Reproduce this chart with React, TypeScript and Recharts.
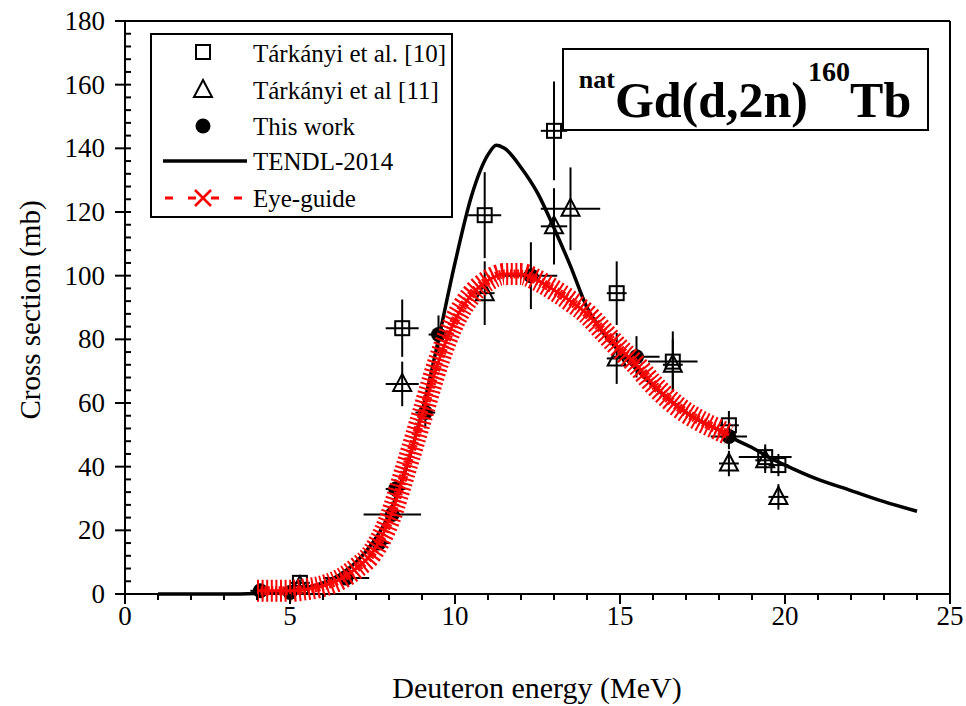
import React from 'react';
import { ComposedChart, Line, Scatter, XAxis, YAxis, ErrorBar, ReferenceLine, Label } from 'recharts';

const FONT = '"Liberation Serif", "Times New Roman", serif';

// TENDL-2014 curve
const tendlEnergy = [1, 2, 3, 4, 4.5, 5, 5.5, 6, 6.5, 7, 7.5, 8, 8.5, 9, 9.5, 10, 10.5, 11, 11.25, 11.5, 12, 12.5, 13, 13.5, 14, 14.5, 15, 15.5, 16, 16.5, 17, 17.5, 18, 18.5, 19, 19.5, 20, 21, 22, 23, 24];
const tendlXs = [0, 0, 0, 0.2, 0.5, 1, 2, 3.5, 6, 10, 16, 25, 39, 57, 80, 104, 125, 138, 141, 140, 134, 126, 115, 103, 90, 82, 76, 70.5, 65.5, 61, 57, 54, 51.5, 48.5, 46, 43, 40.5, 36, 32.5, 29, 26];

// eye-guide
const guideEnergy = [4, 4.5, 5, 5.5, 6, 6.5, 7, 7.5, 8, 8.5, 9, 9.5, 10, 10.5, 11, 11.5, 12, 12.5, 13, 13.5, 14, 14.5, 15, 15.5, 16, 16.5, 17, 17.5, 18, 18.3];
const guideXs = [1, 1, 1, 1.5, 2.5, 4.5, 8, 13, 23, 39, 56, 73, 86, 94, 98.5, 100.5, 100.5, 98.5, 95.5, 92, 88, 82.5, 77, 72, 66, 61, 57, 54, 51.5, 50];

// Tárkányi et al. [10]
const t10Energy = [5.3, 8.4, 10.9, 13.0, 14.9, 16.6, 18.3, 19.4, 19.8];
const t10Xs = [3.5, 83.5, 119, 145.5, 94.5, 73, 53, 43, 40.5];
const t10dE = [0.3, 0.5, 0.5, 0.4, 0.3, 0.75, 0.3, 0.8, 0.3];
const t10dXs = [1, 9, 13.5, 15.5, 10, 9.5, 4.5, 4, 3.5];

// Tárkányi et al [11]
const t11Energy = [5.3, 8.4, 10.9, 13.0, 13.5, 14.9, 16.6, 18.3, 19.4, 19.8];
const t11Xs = [2.5, 66, 94.5, 115.5, 121, 74, 72, 41, 42, 30.5];
const t11dE = [0.3, 0.5, 0.3, 0.4, 0.9, 0.3, 0.3, 0.3, 0.3, 0.3];
const t11dXs = [1, 7, 10, 12, 13, 8, 8, 4, 4, 4];

// This work
const twEnergy = [4.1, 5.0, 6.7, 7.7, 8.1, 8.2, 9.1, 9.5, 12.3, 15.5, 18.3];
const twXs = [1, 0.5, 5, 16, 25, 33, 57, 81.5, 100, 74.5, 49.5];
const twdE = [0.3, 0.3, 0.7, 0.3, 0.87, 0.3, 0.3, 0.3, 0.8, 0.7, 0.55];
const twdXs = [0.5, 0.5, 1, 2, 2.5, 3, 5, 6, 10.5, 6.5, 4];

const xTicks = Array.from({ length: 26 }, (_, i) => i);
const yTicks = Array.from({ length: 46 }, (_, i) => i * 4);

const rows = (e: number[], s: number[], de?: number[], ds?: number[]) =>
  e.map((x, i) => ({ x, y: s[i], ex: de ? de[i] : 0, ey: ds ? ds[i] : 0 }));

const tendlData = rows(tendlEnergy, tendlXs);
const guideData = rows(guideEnergy, guideXs);
const t10Data = rows(t10Energy, t10Xs, t10dE, t10dXs);
const t11Data = rows(t11Energy, t11Xs, t11dE, t11dXs);
const twData = rows(twEnergy, twXs, twdE, twdXs);

const Square = ({ cx, cy }: any) => (
  <rect x={cx - 7} y={cy - 7} width={14} height={14} fill="none" stroke="#000" strokeWidth={2} />
);
const Triangle = ({ cx, cy }: any) => (
  <polygon points={`${cx},${cy - 10} ${cx - 9},${cy + 7} ${cx + 9},${cy + 7}`} fill="none" stroke="#000" strokeWidth={2} />
);
const Dot = ({ cx, cy }: any) => <circle cx={cx} cy={cy} r={7.5} fill="#000" />;
const NoMark = () => <g />;

const XTick = ({ x, y, payload }: any) => {
  const major = payload.value % 5 === 0;
  return (
    <g>
      <line x1={x} x2={x} y1={y} y2={y + (major ? 10 : 6)} stroke="#000" strokeWidth={2} />
      {major && (
        <text x={x} y={y + 31} textAnchor="middle" fontSize={27} fontFamily={FONT} fill="#000">
          {payload.value}
        </text>
      )}
    </g>
  );
};

const YTick = ({ x, y, payload }: any) => {
  const major = payload.value % 20 === 0;
  return (
    <g>
      <line x1={major ? x - 10 : x} x2={x + 6} y1={y} y2={y} stroke="#000" strokeWidth={2} />
      {major && (
        <text x={x - 20} y={y} textAnchor="end" dominantBaseline="central" fontSize={27} fontFamily={FONT} fill="#000">
          {payload.value}
        </text>
      )}
    </g>
  );
};

const LegendBox = () => (
  <svg width={303} height={185} style={{ position: 'absolute', left: 150, top: 33 }}>
    <rect x={1} y={1} width={301} height={183} fill="#fff" stroke="#000" strokeWidth={2} />
    <rect x={46} y={12} width={14} height={14} fill="none" stroke="#000" strokeWidth={2} />
    <polygon points="53,47 44,64 62,64" fill="none" stroke="#000" strokeWidth={2} />
    <circle cx={53} cy={93} r={7.5} fill="#000" />
    <line x1={13} x2={97} y1={128} y2={128} stroke="#000" strokeWidth={3.5} />
    <line x1={15} x2={97} y1={165} y2={165} stroke="#f00" strokeWidth={3} strokeDasharray="8 15" />
    <path d="M45,157 L61,173 M61,157 L45,173" stroke="#f00" strokeWidth={2.5} />
    {[
      ['Tárkányi et al. [10]', 20],
      ['Tárkányi et al [11]', 57],
      ['This work', 93],
      ['TENDL-2014', 128],
      ['Eye-guide', 165],
    ].map(([t, y]) => (
      <text key={t as string} x={103} y={y as number} dominantBaseline="central" fontSize={25} fontFamily={FONT}>
        {t}
      </text>
    ))}
  </svg>
);

const TitleBox = () => (
  <svg width={367} height={83} style={{ position: 'absolute', left: 562, top: 48 }}>
    <rect x={1} y={1} width={365} height={81} fill="#fff" stroke="#000" strokeWidth={2} />
    <text x={183} y={40} textAnchor="middle" fontFamily={FONT} fontWeight="bold" fill="#000">
      <tspan fontSize={26}>nat</tspan>
      <tspan fontSize={50} dy={29}>Gd(d,2n)</tspan>
      <tspan fontSize={28} dy={-36}>160</tspan>
      <tspan fontSize={50} dy={36}>Tb</tspan>
    </text>
  </svg>
);

export default function App() {
  return (
    <div style={{ position: 'absolute', left: 0, top: 0, width: 966, height: 706, background: '#fff' }}>
      <ComposedChart width={966} height={706} margin={{ top: 21, right: 16, left: 0, bottom: 0 }}>
        <XAxis
          type="number"
          dataKey="x"
          domain={[0, 25]}
          ticks={xTicks}
          interval={0}
          tick={<XTick />}
          tickLine={false}
          tickSize={0}
          tickMargin={0}
          height={112}
          axisLine={{ stroke: '#000', strokeWidth: 2 }}
        >
          <Label
            content={() => (
              <text x={537} y={698} textAnchor="middle" fontSize={30} fontFamily={FONT} fill="#000">
                Deuteron energy (MeV)
              </text>
            )}
          />
        </XAxis>
        <YAxis
          type="number"
          domain={[0, 180]}
          ticks={yTicks}
          interval={0}
          tick={<YTick />}
          tickLine={false}
          tickSize={0}
          tickMargin={0}
          width={125}
          axisLine={{ stroke: '#000', strokeWidth: 2 }}
        >
          <Label
            content={() => (
              <text x={30} y={310} transform="rotate(-90 30 310)" textAnchor="middle" dominantBaseline="central" fontSize={29} fontFamily={FONT} fill="#000">
                Cross section (mb)
              </text>
            )}
          />
        </YAxis>
        <ReferenceLine y={180} stroke="#000" strokeWidth={2} />
        <ReferenceLine x={25} stroke="#000" strokeWidth={2} />

        <Line data={tendlData} dataKey="y" type="monotone" stroke="#000" strokeWidth={3.5} dot={false} isAnimationActive={false} />

        <Scatter data={t10Data} dataKey="y" shape={<Square />} isAnimationActive={false}>
          <ErrorBar dataKey="ey" direction="y" width={0} stroke="#000" strokeWidth={2} />
          <ErrorBar dataKey="ex" direction="x" width={0} stroke="#000" strokeWidth={2} />
        </Scatter>
        <Scatter data={t11Data} dataKey="y" shape={<Triangle />} isAnimationActive={false}>
          <ErrorBar dataKey="ey" direction="y" width={0} stroke="#000" strokeWidth={2} />
          <ErrorBar dataKey="ex" direction="x" width={0} stroke="#000" strokeWidth={2} />
        </Scatter>
        <Scatter data={twData} dataKey="y" shape={<Dot />} isAnimationActive={false}>
          <ErrorBar dataKey="ey" direction="y" width={0} stroke="#000" strokeWidth={2} />
          <ErrorBar dataKey="ex" direction="x" width={0} stroke="#000" strokeWidth={2} />
        </Scatter>

        {/* eye-guide: hatched band of X markers, drawn as scatter lines so it sits above the points */}
        <Scatter
          data={guideData}
          dataKey="y"
          shape={<NoMark />}
          line={{ stroke: '#ff0000', strokeWidth: 22, strokeDasharray: '2 2.6', fill: 'none' }}
          lineJointType="monotoneX"
          isAnimationActive={false}
        />
        <Scatter
          data={guideData}
          dataKey="y"
          shape={<NoMark />}
          line={{ stroke: '#ff0000', strokeWidth: 9, strokeDasharray: '2 1.6', fill: 'none' }}
          lineJointType="monotoneX"
          isAnimationActive={false}
        />
        <Scatter
          data={guideData}
          dataKey="y"
          shape={<NoMark />}
          line={{ stroke: '#ff0000', strokeWidth: 3, fill: 'none' }}
          lineJointType="monotoneX"
          isAnimationActive={false}
        />
      </ComposedChart>
      <LegendBox />
      <TitleBox />
    </div>
  );
}
